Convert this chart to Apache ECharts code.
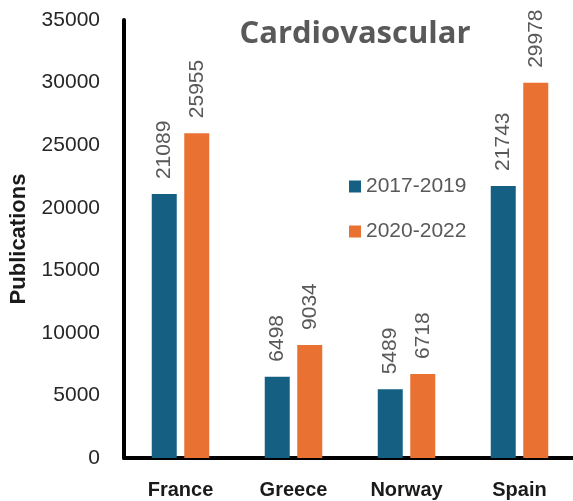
<!DOCTYPE html>
<html><head><meta charset="utf-8">
<script src="https://cdn.jsdelivr.net/npm/echarts@6/dist/echarts.min.js"></script>
<style>html,body{margin:0;padding:0;background:#fff}#c{width:573px;height:501px}</style>
</head><body><div id="c"></div>
<script>
const categories = ["France", "Greece", "Norway", "Spain"];
const seriesNames = ["2017-2019", "2020-2022"];
const values2017 = [21089, 6498, 5489, 21743];
const values2020 = [25955, 9034, 6718, 29978];
const yTicks = [0, 5000, 10000, 15000, 20000, 25000, 30000, 35000];

const chart = echarts.init(document.getElementById('c'), null, {renderer: 'canvas'});
const labelStyle = {
  show: true, position: 'top', rotate: 90, align: 'left', verticalAlign: 'middle',
  distance: 15, color: '#595959', fontSize: 21, fontFamily: 'Liberation Sans'
};
chart.setOption({
  animation: false,
  title: {
    text: 'Cardiovascular', left: 350, top: 14, textAlign: 'center',
    textStyle: {fontFamily: 'Open Sans', fontWeight: 'bold', fontSize: 31, color: '#595959'}
  },
  legend: {
    data: seriesNames, orient: 'vertical', left: 344, top: 171,
    itemWidth: 12, itemHeight: 12, itemGap: 24, icon: 'rect',
    textStyle: {fontFamily: 'Liberation Sans', fontSize: 21, color: '#595959'}
  },
  grid: {left: 124, right: -3, top: 20, bottom: 43, containLabel: false, outerBoundsMode: 'none'},
  xAxis: {
    type: 'category', data: categories,
    axisLine: {show: true, lineStyle: {color: '#000', width: 4}},
    axisTick: {show: false},
    axisLabel: {margin: 22, fontFamily: 'Liberation Sans', fontWeight: 'bold', fontSize: 20, color: '#1a1a1a'}
  },
  yAxis: {
    type: 'value', min: yTicks[0], max: yTicks[yTicks.length - 1], interval: 5000,
    name: 'Publications', nameLocation: 'middle', nameGap: 94, nameRotate: 90,
    nameTextStyle: {fontFamily: 'Liberation Sans', fontWeight: 'bold', fontSize: 22, color: '#1a1a1a'},
    axisLine: {show: true, lineStyle: {color: '#000', width: 4}},
    axisTick: {show: false},
    splitLine: {show: false},
    axisLabel: {margin: 24, fontFamily: 'Liberation Sans', fontSize: 21, color: '#262626',
      formatter: v => String(v)}
  },
  series: [
    {name: seriesNames[0], type: 'bar', data: values2017, barWidth: 25, barGap: '30%',
     itemStyle: {color: '#156082'}, label: labelStyle},
    {name: seriesNames[1], type: 'bar', data: values2020, barWidth: 25,
     itemStyle: {color: '#E97132'}, label: labelStyle}
  ]
});
</script></body></html>
